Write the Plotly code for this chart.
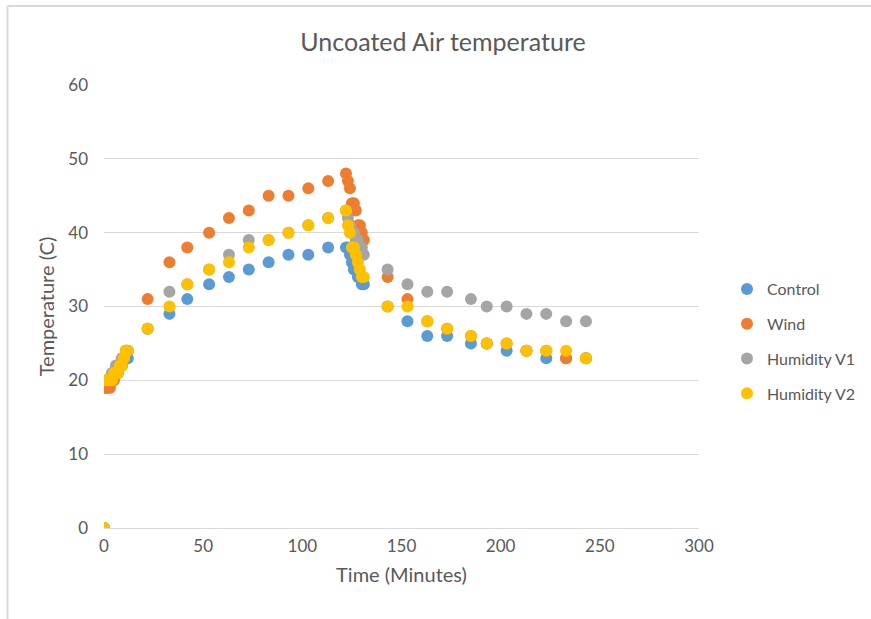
import plotly.graph_objects as go

# ---- data (time in minutes, temperature in C) ----
control_t = [0, 1, 2, 3, 4, 5, 6, 7, 8, 9, 10, 11, 12, 22, 33, 42, 53, 63, 73, 83, 93, 103, 113,
             122, 123, 124, 125, 126, 127, 128, 129, 130, 131,
             143, 153, 163, 173, 185, 193, 203, 213, 223, 233, 243]
control_v = [0, 19, 20, 20, 20, 21, 21, 21, 22, 22, 23, 23, 23, 27, 29, 31, 33, 34, 35, 36, 37, 37, 38,
             38, 38, 37, 36, 35, 35, 34, 34, 33, 33,
             30, 28, 26, 26, 25, 25, 24, 24, 23, 23, 23]

wind_t = [0, 1, 2, 3, 4, 5, 6, 7, 8, 9, 10, 11, 12, 22, 33, 42, 53, 63, 73, 83, 93, 103, 113,
          122, 123, 124, 125, 126, 127, 128, 129, 130, 131,
          143, 153, 163, 173, 185, 193, 203, 213, 223, 233, 243]
wind_v = [0, 19, 19, 19, 20, 20, 21, 21, 22, 22, 23, 24, 24, 31, 36, 38, 40, 42, 43, 45, 45, 46, 47,
          48, 47, 46, 44, 44, 43, 41, 41, 40, 39,
          34, 31, 28, 27, 26, 25, 25, 24, 24, 23, 23]

hum1_t = [0, 1, 2, 3, 4, 5, 6, 7, 8, 9, 10, 11, 12, 22, 33, 42, 53, 63, 73, 83, 93, 103, 113,
          122, 123, 124, 125, 126, 127, 128, 129, 130, 131,
          143, 153, 163, 173, 185, 193, 203, 213, 223, 233, 243]
hum1_v = [0, 20, 20, 20, 21, 21, 22, 22, 22, 23, 23, 24, 24, 27, 32, 33, 35, 37, 39, 39, 40, 41, 42,
          43, 42, 41, 40, 40, 39, 39, 38, 38, 37,
          35, 33, 32, 32, 31, 30, 30, 29, 29, 28, 28]

hum2_t = [0, 1, 2, 3, 4, 5, 6, 7, 8, 9, 10, 11, 12, 22, 33, 42, 53, 63, 73, 83, 93, 103, 113,
          122, 123, 124, 125, 126, 127, 128, 129, 130, 131,
          143, 153, 163, 173, 185, 193, 203, 213, 223, 233, 243]
hum2_v = [0, 20, 20, 20, 20, 21, 21, 21, 22, 22, 23, 24, 24, 27, 30, 33, 35, 36, 38, 39, 40, 41, 42,
          43, 41, 40, 38, 38, 37, 36, 35, 34, 34,
          30, 30, 28, 27, 26, 25, 25, 24, 24, 24, 23]

series = [
    ("Control", control_t, control_v, "#5B9BD5"),
    ("Wind", wind_t, wind_v, "#ED7D31"),
    ("Humidity V1", hum1_t, hum1_v, "#A5A5A5"),
    ("Humidity V2", hum2_t, hum2_v, "#FFC000"),
]

FONT = "Lato"
GREY = "#595959"

fig = go.Figure()
for i, (name, t, v, c) in enumerate(series):
    fig.add_trace(go.Scatter(
        x=t, y=v, mode="markers", name=name, legendgroup=f"g{i}",
        marker=dict(color=c, size=12, line=dict(width=0)),
    ))

W, H = 871, 619
L, R, T, B = 104, 172, 85, 91
pw, ph = W - L - R, H - T - B

def px_x(px):
    return (px - L) / pw

def px_y(py):
    return (H - B - py) / ph

fig.update_layout(
    width=W, height=H,
    margin=dict(l=L, r=R, t=T, b=B),
    paper_bgcolor="white", plot_bgcolor="white",
    font=dict(family=FONT, color=GREY, size=17),
    title=dict(text="Uncoated Air temperature", x=443 / W, xanchor="center",
               y=1 - 42 / H, yanchor="middle",
               font=dict(family=FONT, size=25, color=GREY)),
    xaxis=dict(range=[0, 300], dtick=50, tick0=0, showgrid=False,
               showline=False, zeroline=False, ticks="", ticklabelstandoff=6,
               tickfont=dict(size=17, color=GREY),
               title=dict(text="Time (Minutes)", font=dict(size=20, color=GREY), standoff=12)),
    yaxis=dict(range=[0, 60], dtick=10, tick0=0, showgrid=True, gridcolor="#D9D9D9",
               gridwidth=1, zeroline=True, zerolinecolor="#D9D9D9", zerolinewidth=1,
               showline=False, ticks="", ticklabelstandoff=15,
               tickfont=dict(size=17, color=GREY),
               title=dict(text="Temperature (C)", font=dict(size=20, color=GREY), standoff=8)),
    legend=dict(xref="container", yref="container",
                x=727 / W, y=1 - 272 / H, xanchor="left", yanchor="top",
                traceorder="grouped", tracegroupgap=11,
                font=dict(size=16, color=GREY),
                bgcolor="rgba(0,0,0,0)"),
    showlegend=True,
    shapes=[
        dict(type="line", xref="paper", yref="paper",
             x0=px_x(7.5), x1=px_x(W + 2), y0=px_y(6), y1=px_y(6),
             line=dict(color="#D9D9D9", width=2)),
        dict(type="line", xref="paper", yref="paper",
             x0=px_x(7.5), x1=px_x(7.5), y0=px_y(6), y1=px_y(H + 2),
             line=dict(color="#D9D9D9", width=2)),
    ],
)

fig.write_html("out.html")
